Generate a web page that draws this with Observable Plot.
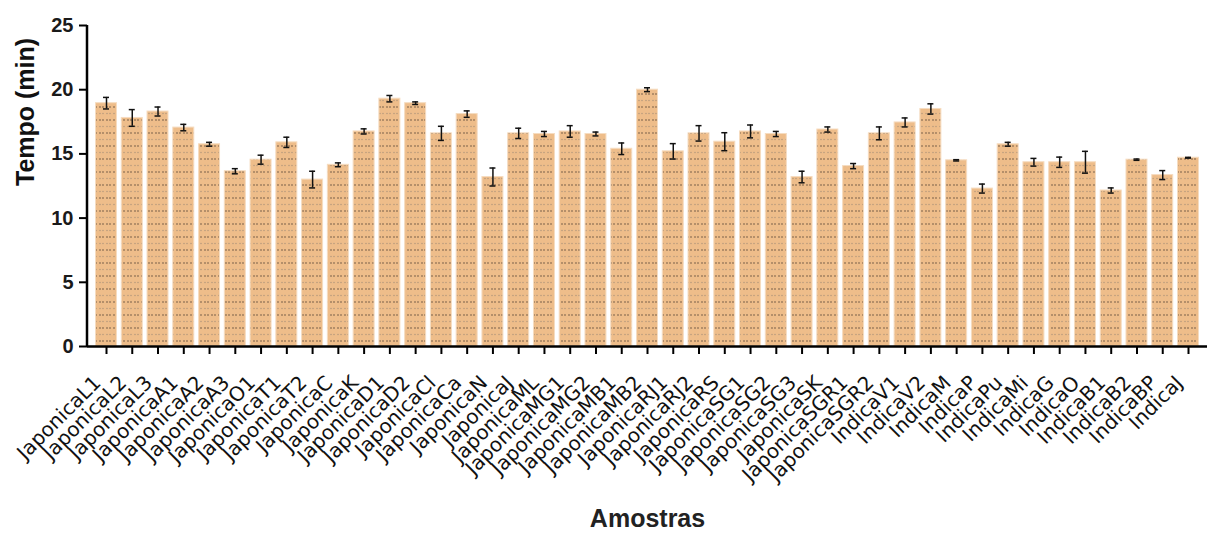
<!DOCTYPE html>
<html>
<head>
<meta charset="utf-8">
<script src="https://cdn.jsdelivr.net/npm/d3@7"></script>
<script src="https://cdn.jsdelivr.net/npm/@observablehq/plot@0.6"></script>
<style>
  html, body { margin: 0; padding: 0; background: #fff; }
  svg { font-family: "Liberation Sans", Arial, sans-serif; }
</style>
</head>
<body>
<div id="chart"></div>
<script>
const samples = [
  "JaponicaL1","JaponicaL2","JaponicaL3","JaponicaA1","JaponicaA2","JaponicaA3","JaponicaO1","JaponicaT1","JaponicaT2","JaponicaC",
  "JaponicaK","JaponicaD1","JaponicaD2","JaponicaCl","JaponicaCa","JaponicaN","JaponicaJ","JaponicaML","JaponicaMG1","JaponicaMG2",
  "JaponicaMB1","JaponicaMB2","JaponicaRJ1","JaponicaRJ2","JaponicaRS","JaponicaSG1","JaponicaSG2","JaponicaSG3","JaponicaSK","JaponicaSGR1",
  "JaponicaSGR2","IndicaV1","IndicaV2","IndicaM","IndicaP","IndicaPu","IndicaMi","IndicaG","IndicaO","IndicaB1",
  "IndicaB2","IndicaBP","IndicaJ"
];
const means = [
  18.95, 17.8, 18.3, 17.05, 15.75, 13.65, 14.55, 15.9, 13.0, 14.15,
  16.75, 19.3, 18.95, 16.6, 18.1, 13.2, 16.6, 16.55, 16.75, 16.55,
  15.4, 20.0, 15.2, 16.6, 15.95, 16.75, 16.55, 13.2, 16.9, 14.05,
  16.6, 17.45, 18.5, 14.5, 12.3, 15.75, 14.35, 14.35, 14.35, 12.15,
  14.55, 13.35, 14.7
];
const errors = [
  0.45, 0.65, 0.35, 0.25, 0.15, 0.2, 0.35, 0.4, 0.65, 0.15,
  0.2, 0.25, 0.1, 0.55, 0.25, 0.7, 0.4, 0.2, 0.45, 0.15,
  0.45, 0.15, 0.6, 0.6, 0.7, 0.5, 0.2, 0.45, 0.2, 0.2,
  0.5, 0.35, 0.4, 0.05, 0.35, 0.15, 0.3, 0.4, 0.85, 0.2,
  0.05, 0.35, 0.03
];
const yTicks = [0, 5, 10, 15, 20, 25];

const data = samples.map((s, i) => ({sample: s, mean: means[i], lo: means[i] - errors[i], hi: means[i] + errors[i]}));

const svg = Plot.plot({
  width: 1210,
  height: 539,
  marginLeft: 87,
  marginRight: 3,
  marginTop: 25,
  marginBottom: 193,
  style: {fontFamily: "'Liberation Sans', Arial, sans-serif", color: "#000", background: "#fff"},
  x: {domain: samples, paddingInner: 0.185, paddingOuter: 0.33, label: null},
  y: {domain: [0, 25], label: null},
  marks: [
    Plot.barY(data, {x: "sample", y: "mean", fill: "url(#dots)", stroke: "#f6dcc0", strokeWidth: 1}),
    Plot.ruleX(data, {x: "sample", y1: "lo", y2: "hi", stroke: "#111", strokeWidth: 1.5}),
    Plot.tickY(data, {x: "sample", y: "hi", stroke: "#111", strokeWidth: 1.5, insetLeft: 7.5, insetRight: 7.5}),
    Plot.tickY(data, {x: "sample", y: "lo", stroke: "#111", strokeWidth: 1.5, insetLeft: 7.5, insetRight: 7.5}),
    Plot.axisY({ticks: yTicks, tickSize: 8, tickPadding: 6, fontSize: 20, fontWeight: "bold", fill: "#1a1a1a", label: null, strokeWidth: 2}),
    Plot.axisX({tickSize: 8, tickFormat: null, label: null, strokeWidth: 2, text: null}),
    Plot.axisX({tickSize: 0, tickRotate: -45, tickPadding: 33, dx: -9, fontSize: 20, fontFamily: "'DejaVu Sans', sans-serif", fill: "#111", label: null}),
    Plot.ruleY([0], {stroke: "#000", strokeWidth: 2.5}),
    Plot.text(["Tempo (min)"], {frameAnchor: "left", rotate: -90, dx: -62, fontSize: 25, fontWeight: "bold", fill: "#111"}),
    Plot.text(["Amostras"], {frameAnchor: "bottom", dy: 180, fontSize: 25, fontWeight: "bold", fill: "#222"})
  ]
});

const s = d3.select(svg);
const defs = s.insert("defs", ":first-child");
const pat = defs.append("pattern")
  .attr("id", "dots").attr("patternUnits", "userSpaceOnUse")
  .attr("width", 7).attr("height", 13);
pat.append("rect").attr("width", 7).attr("height", 13).attr("fill", "#eebd8a");
pat.append("circle").attr("cx", 2).attr("cy", 3).attr("r", 0.8).attr("fill", "#6b5440");
pat.append("circle").attr("cx", 5).attr("cy", 3).attr("r", 0.8).attr("fill", "#6b5440");
pat.append("circle").attr("cx", 2).attr("cy", 9.5).attr("r", 0.8).attr("fill", "#b89a7c");
pat.append("circle").attr("cx", 5).attr("cy", 9.5).attr("r", 0.8).attr("fill", "#b89a7c");

// y axis line
const yScale = svg.scale("y");
s.append("line")
  .attr("x1", 87).attr("x2", 87)
  .attr("y1", yScale.apply(25)).attr("y2", yScale.apply(0) + 1)
  .attr("stroke", "#000").attr("stroke-width", 2.5);

document.getElementById("chart").appendChild(svg);
</script>
</body>
</html>
